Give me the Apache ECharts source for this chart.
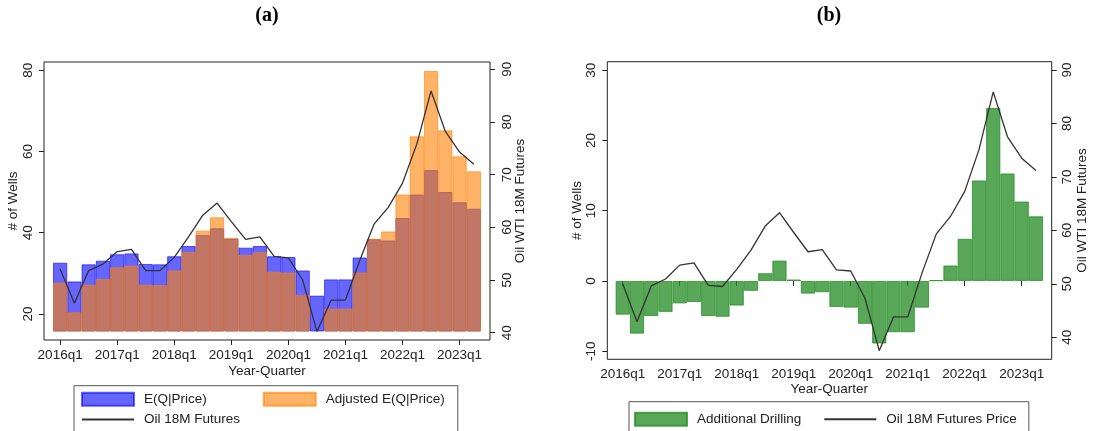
<!DOCTYPE html>
<html>
<head>
<meta charset="utf-8">
<script src="https://cdn.jsdelivr.net/npm/echarts@6/dist/echarts.min.js"></script>
<style>
  html, body { margin: 0; padding: 0; background: #fff; }
  #chart { width: 1094px; height: 431px; }
</style>
</head>
<body>
<div id="chart"></div>
<script>
// Quarters on the horizontal axis
const quarters = [
  '2016q1','2016q2','2016q3','2016q4',
  '2017q1','2017q2','2017q3','2017q4',
  '2018q1','2018q2','2018q3','2018q4',
  '2019q1','2019q2','2019q3','2019q4',
  '2020q1','2020q2','2020q3','2020q4',
  '2021q1','2021q2','2021q3','2021q4',
  '2022q1','2022q2','2022q3','2022q4',
  '2023q1','2023q2'
];

// Panel (a): expected wells given price, and the adjusted expectation
const expectedQ = [32.6,28.0,32.2,33.1,34.7,34.9,32.3,32.2,34.2,36.7,39.4,41.1,38.5,36.3,36.7,
                   34.2,34.0,30.7,24.5,28.5,28.5,33.9,38.4,38.1,43.6,49.4,55.4,50.0,47.5,45.9];
const adjustedQ = [27.7,20.4,27.2,28.6,31.5,31.9,27.2,27.1,30.7,35.3,40.5,43.8,38.7,34.5,35.2,
                   30.4,30.2,24.7,15.6,21.3,21.3,30.2,38.5,40.3,49.4,63.7,79.8,65.2,58.8,55.1];
// Oil WTI 18-month futures as plotted in panel (a)
const futuresA = [52.1,45.6,51.8,53.0,55.4,55.8,51.8,51.8,54.3,58.2,62.3,64.6,61.1,57.7,58.2,
                  54.5,54.2,50.0,40.2,46.2,46.2,53.7,60.6,63.8,68.4,75.8,85.9,78.2,74.3,72.0];

// Panel (b): additional drilling and the futures price
const additional = [-4.8,-7.5,-5.0,-4.4,-3.2,-3.0,-5.0,-5.1,-3.5,-1.4,1.1,2.9,0.2,-1.8,-1.6,
                    -3.7,-3.8,-6.1,-8.9,-7.3,-7.3,-3.8,0.1,2.2,6.0,14.3,24.6,15.3,11.3,9.2];
const futuresB = [50.0,42.9,49.6,50.9,53.5,53.9,49.7,49.5,52.7,56.3,60.8,63.3,59.6,56.0,56.4,
                  52.6,52.4,47.3,37.5,43.8,43.8,52.0,59.3,62.6,67.3,75.1,85.9,77.5,73.5,71.2];

// Tick values
const wellsTicksA = [20, 40, 60, 80];
const wellsTicksB = [-10, 0, 10, 20, 30];
const priceTicks = [40, 50, 60, 70, 80, 90];

const INK = '#222';
const FONT = 'Liberation Sans, Arial, sans-serif';
const FS = 13.5;

const chart = echarts.init(document.getElementById('chart'), null, { renderer: 'canvas' });

function tickStyle(values) {
  return { show: true, inside: false, length: 5, customValues: values, lineStyle: { color: INK, width: 1 } };
}
function labelStyle(values, margin) {
  return { show: true, customValues: values, rotate: 90, margin: margin, color: INK, fontSize: FS, fontFamily: FONT };
}
function nameStyle() {
  return { color: INK, fontSize: FS, fontFamily: FONT };
}
function xCategory(gridIndex, offset, nameGap) {
  return {
    gridIndex: gridIndex, type: 'category', data: quarters, offset: offset,
    boundaryGap: true,
    axisLine: { show: false },
    axisTick: { show: true, interval: 3, alignWithLabel: true, length: 5, lineStyle: { color: INK } },
    axisLabel: { interval: 3, margin: 8, color: INK, fontSize: FS, fontFamily: FONT },
    splitLine: { show: false },
    name: 'Year-Quarter', nameLocation: 'middle', nameGap: nameGap, nameTextStyle: nameStyle(),
    nameMoveOverlap: false
  };
}
function hiddenValue(gridIndex, min, max) {
  return { gridIndex: gridIndex, type: 'value', show: false, min: min, max: max, splitLine: { show: false } };
}
function visibleY(gridIndex, position, min, max, ticks, name, offset, margin, nameGap) {
  return {
    gridIndex: gridIndex, type: 'value', position: position, min: min, max: max, offset: offset,
    axisLine: { show: false },
    axisTick: tickStyle(ticks),
    axisLabel: labelStyle(ticks, margin),
    splitLine: { show: false },
    name: name, nameLocation: 'middle', nameGap: nameGap, nameRotate: 90,
    nameTextStyle: nameStyle(), nameMoveOverlap: false
  };
}

const legendCommon = {
  orient: 'horizontal', itemWidth: 52, itemHeight: 13,
  selectedMode: false,
  textStyle: { color: INK, fontSize: FS, fontFamily: FONT, padding: [0, 0, 0, 5] }
};

const option = {
  animation: false,
  backgroundColor: '#fff',
  textStyle: { fontFamily: FONT },
  title: [
    { text: '(a)', left: 267, top: 6, padding: 0, textAlign: 'center',
      textStyle: { fontFamily: 'Liberation Serif, Times New Roman, serif', fontWeight: 'bold', fontSize: 20, color: '#000' } },
    { text: '(b)', left: 829, top: 6, padding: 0, textAlign: 'center',
      textStyle: { fontFamily: 'Liberation Serif, Times New Roman, serif', fontWeight: 'bold', fontSize: 20, color: '#000' } }
  ],
  grid: [
    // 0: panel (a) data area
    { left: 53, right: 613, top: 62, bottom: 100, outerBoundsMode: 'none' },
    // 1: panel (b) data area
    { left: 615.6, right: 50.9, top: 61.7, bottom: 71.7, outerBoundsMode: 'none' },
    // 2: panel (a) plot frame
    { left: 44, right: 604, top: 62, bottom: 91, show: true, borderColor: INK, borderWidth: 1,
      backgroundColor: 'transparent', outerBoundsMode: 'none' },
    // 3: panel (b) plot frame
    { left: 607.3, right: 42.3, top: 61.7, bottom: 71.7, show: true, borderColor: INK, borderWidth: 1,
      backgroundColor: 'transparent', outerBoundsMode: 'none' }
  ],
  legend: [
    // panel (a), first row; its border also encloses the second row
    Object.assign({}, legendCommon, {
      left: 74, top: 385.7, itemGap: 56,
      padding: [6, 13, 28, 7],
      borderColor: '#555', borderWidth: 1, backgroundColor: 'transparent',
      data: [
        { name: 'E(Q|Price)', icon: 'rect' },
        { name: 'Adjusted E(Q|Price)', icon: 'rect' }
      ]
    }),
    // panel (a), second row
    Object.assign({}, legendCommon, {
      left: 81, top: 412.5, padding: 0,
      data: [{ name: 'Oil 18M Futures', itemStyle: { opacity: 0 } }]
    }),
    // panel (b)
    Object.assign({}, legendCommon, {
      left: 629, top: 401.7, itemGap: 22,
      padding: [10, 12, 8, 5],
      borderColor: '#555', borderWidth: 1, backgroundColor: '#fff',
      data: [
        { name: 'Additional Drilling', icon: 'rect' },
        { name: 'Oil 18M Futures Price', itemStyle: { opacity: 0 } }
      ]
    })
  ],
  xAxis: [
    xCategory(0, 9, 24),
    xCategory(1, 0, 23),
    { gridIndex: 2, type: 'value', show: false, min: 0, max: 1 },
    { gridIndex: 3, type: 'value', show: false, min: 0, max: 1 }
  ],
  yAxis: [
    // 0, 1: scales of panel (a) data area (drawn on the frame by 4, 5)
    hiddenValue(0, 15.8, 82.0),
    hiddenValue(0, 40.32, 91.39),
    // 2, 3: panel (b)
    visibleY(1, 'left', -11.15, 31.2, wellsTicksB, '# of Wells', 8.3, 9, 23.5),
    visibleY(1, 'right', 35.88, 91.55, priceTicks, 'Oil WTI 18M Futures', 8.6, 9, 23.5),
    // 4, 5: panel (a) axes on the frame
    visibleY(2, 'left', 13.6, 82.0, wellsTicksA, '# of Wells', 0, 9, 23.5),
    visibleY(2, 'right', 38.61, 91.39, priceTicks, 'Oil WTI 18M Futures', 0, 10, 23)
  ],
  series: [
    {
      type: 'bar', name: 'E(Q|Price)', xAxisIndex: 0, yAxisIndex: 0, data: expectedQ,
      barWidth: '100%', barGap: '-100%', clip: true,
      itemStyle: { color: 'rgba(0,0,255,0.6)', borderColor: 'rgba(0,0,255,0.6)', borderWidth: 1 }
    },
    {
      type: 'bar', name: 'Adjusted E(Q|Price)', xAxisIndex: 0, yAxisIndex: 0, data: adjustedQ,
      barWidth: '100%', barGap: '-100%', clip: true,
      itemStyle: { color: 'rgba(255,128,0,0.6)', borderColor: 'rgba(255,128,0,0.6)', borderWidth: 1 }
    },
    {
      type: 'line', name: 'Oil 18M Futures', xAxisIndex: 0, yAxisIndex: 1, data: futuresA,
      symbol: 'none', lineStyle: { color: '#333', width: 1.3 }, itemStyle: { color: '#333' }, z: 5
    },
    {
      type: 'bar', name: 'Additional Drilling', xAxisIndex: 1, yAxisIndex: 2, data: additional,
      barWidth: '100%', clip: true,
      itemStyle: { color: 'rgba(34,139,34,0.75)', borderColor: 'rgba(34,139,34,0.75)', borderWidth: 1 }
    },
    {
      type: 'line', name: 'Oil 18M Futures Price', xAxisIndex: 1, yAxisIndex: 3, data: futuresB,
      symbol: 'none', lineStyle: { color: '#333', width: 1.3 }, itemStyle: { color: '#333' }, z: 5
    }
  ]
};

chart.setOption(option);
</script>
</body>
</html>
